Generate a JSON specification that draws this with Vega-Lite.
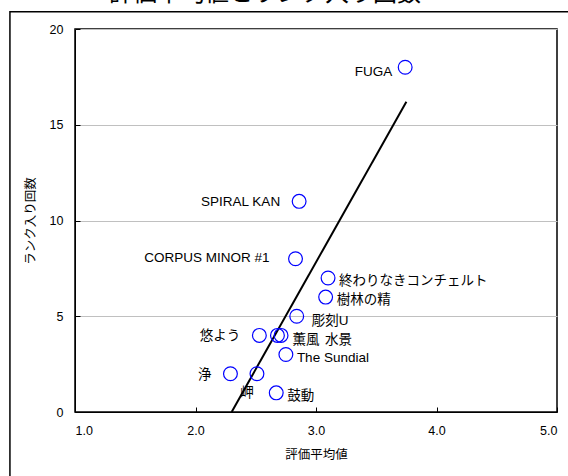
{
  "$schema": "https://vega.github.io/schema/vega-lite/v6.json",
  "width": 482,
  "height": 383,
  "autosize": {"type": "none"},
  "padding": {"left": 75, "top": 29, "right": 11, "bottom": 64},
  "background": "white",
  "config": {
    "view": {"stroke": "black", "strokeWidth": 1.5},
    "font": "Liberation Sans, Noto Sans CJK JP",
    "axis": {"labelColor": "black", "titleColor": "black", "labelFont": "Liberation Sans, Noto Sans CJK JP", "titleFont": "Noto Sans CJK JP, Liberation Sans", "titleFontWeight": "normal"}
  },
  "title": {"text": "評価平均値とランク入り回数", "fontSize": 24, "fontWeight": "normal", "font": "Noto Sans CJK JP", "color": "black", "anchor": "middle", "frame": "group", "baseline": "bottom", "offset": 0, "dy": 19, "dx": -51},
  "datasets": {
    "points": [
      {"name": "FUGA", "avg": 3.74, "count": 18},
      {"name": "SPIRAL KAN", "avg": 2.86, "count": 11},
      {"name": "CORPUS MINOR #1", "avg": 2.83, "count": 8},
      {"name": "終わりなきコンチェルト", "avg": 3.10, "count": 7},
      {"name": "樹林の精", "avg": 3.08, "count": 6},
      {"name": "彫刻U", "avg": 2.84, "count": 5},
      {"name": "悠よう", "avg": 2.53, "count": 4},
      {"name": "薫風", "avg": 2.68, "count": 4},
      {"name": "水景", "avg": 2.71, "count": 4},
      {"name": "The Sundial", "avg": 2.75, "count": 3},
      {"name": "浄", "avg": 2.29, "count": 2},
      {"name": "岬", "avg": 2.51, "count": 2},
      {"name": "鼓動", "avg": 2.67, "count": 1}
    ],
    "trend": [
      {"avg": 2.30, "count": 0},
      {"avg": 3.75, "count": 16.2}
    ],
    "frame": [
      {"x1": 0.46, "x2": 5.13, "y1": 20.9, "y2": -3.7}
    ]
  },
  "encoding": {
    "x": {"field": "avg", "type": "quantitative", "scale": {"domain": [1, 5], "nice": false, "zero": false},
      "axis": {"title": "評価平均値", "values": [1, 2, 3, 4, 5], "format": ".1f", "grid": false, "tickSize": -5, "tickColor": "black", "domainColor": "black", "labelFontSize": 12.5, "titleFontSize": 12.5, "labelPadding": 17, "titlePadding": 12}},
    "y": {"field": "count", "type": "quantitative", "scale": {"domain": [0, 20], "nice": false},
      "axis": {"title": "ランク入り回数", "values": [0, 5, 10, 15, 20], "grid": true, "gridColor": "#c0c0c0", "gridWidth": 1, "tickSize": -5, "tickColor": "black", "domainColor": "black", "labelFontSize": 12.5, "titleFontSize": 12.5, "labelPadding": 17, "titlePadding": 12}}
  },
  "layer": [
    {
      "data": {"name": "frame"},
      "mark": {"type": "rect", "fill": "transparent", "stroke": "black", "strokeWidth": 1.5, "clip": false},
      "encoding": {
        "x": {"field": "x1", "type": "quantitative"},
        "x2": {"field": "x2"},
        "y": {"field": "y1", "type": "quantitative"},
        "y2": {"field": "y2"}
      }
    },
    {
      "data": {"name": "trend"},
      "mark": {"type": "line", "color": "black", "strokeWidth": 2}
    },
    {
      "data": {"name": "points"},
      "mark": {"type": "point", "shape": "circle", "filled": false, "stroke": "#0000ff", "strokeWidth": 1.2, "size": 190, "opacity": 1}
    },
    {
      "data": {"name": "points"},
      "transform": [{"filter": {"field": "name", "oneOf": ["終わりなきコンチェルト", "樹林の精", "The Sundial", "鼓動"]}}],
      "mark": {"type": "text", "align": "left", "baseline": "middle", "dx": 11, "dy": 3, "fontSize": 13.5, "color": "black"},
      "encoding": {"text": {"field": "name"}}
    },
    {
      "data": {"name": "points"},
      "transform": [{"filter": {"field": "name", "oneOf": ["彫刻U", "薫風"]}}],
      "mark": {"type": "text", "align": "left", "baseline": "middle", "dx": 15, "dy": 5, "fontSize": 13.5, "color": "black"},
      "encoding": {"text": {"field": "name"}}
    },
    {
      "data": {"name": "points"},
      "transform": [{"filter": {"field": "name", "equal": "水景"}}],
      "mark": {"type": "text", "align": "left", "baseline": "middle", "dx": 44, "dy": 5, "fontSize": 13.5, "color": "black"},
      "encoding": {"text": {"field": "name"}}
    },
    {
      "data": {"name": "points"},
      "transform": [{"filter": {"field": "name", "oneOf": ["SPIRAL KAN", "悠よう", "浄"]}}],
      "mark": {"type": "text", "align": "right", "baseline": "middle", "dx": -19, "dy": 1, "fontSize": 13.5, "color": "black"},
      "encoding": {"text": {"field": "name"}}
    },
    {
      "data": {"name": "points"},
      "transform": [{"filter": {"field": "name", "equal": "CORPUS MINOR #1"}}],
      "mark": {"type": "text", "align": "right", "baseline": "middle", "dx": -26, "dy": -1, "fontSize": 13.5, "color": "black"},
      "encoding": {"text": {"field": "name"}}
    },
    {
      "data": {"name": "points"},
      "transform": [{"filter": {"field": "name", "equal": "FUGA"}}],
      "mark": {"type": "text", "align": "right", "baseline": "middle", "dx": -13, "dy": 5, "fontSize": 13.5, "color": "black"},
      "encoding": {"text": {"field": "name"}}
    },
    {
      "data": {"name": "points"},
      "transform": [{"filter": {"field": "name", "equal": "岬"}}],
      "mark": {"type": "text", "align": "center", "baseline": "middle", "dx": -10, "dy": 19, "fontSize": 13.5, "color": "black"},
      "encoding": {"text": {"field": "name"}}
    }
  ]
}
